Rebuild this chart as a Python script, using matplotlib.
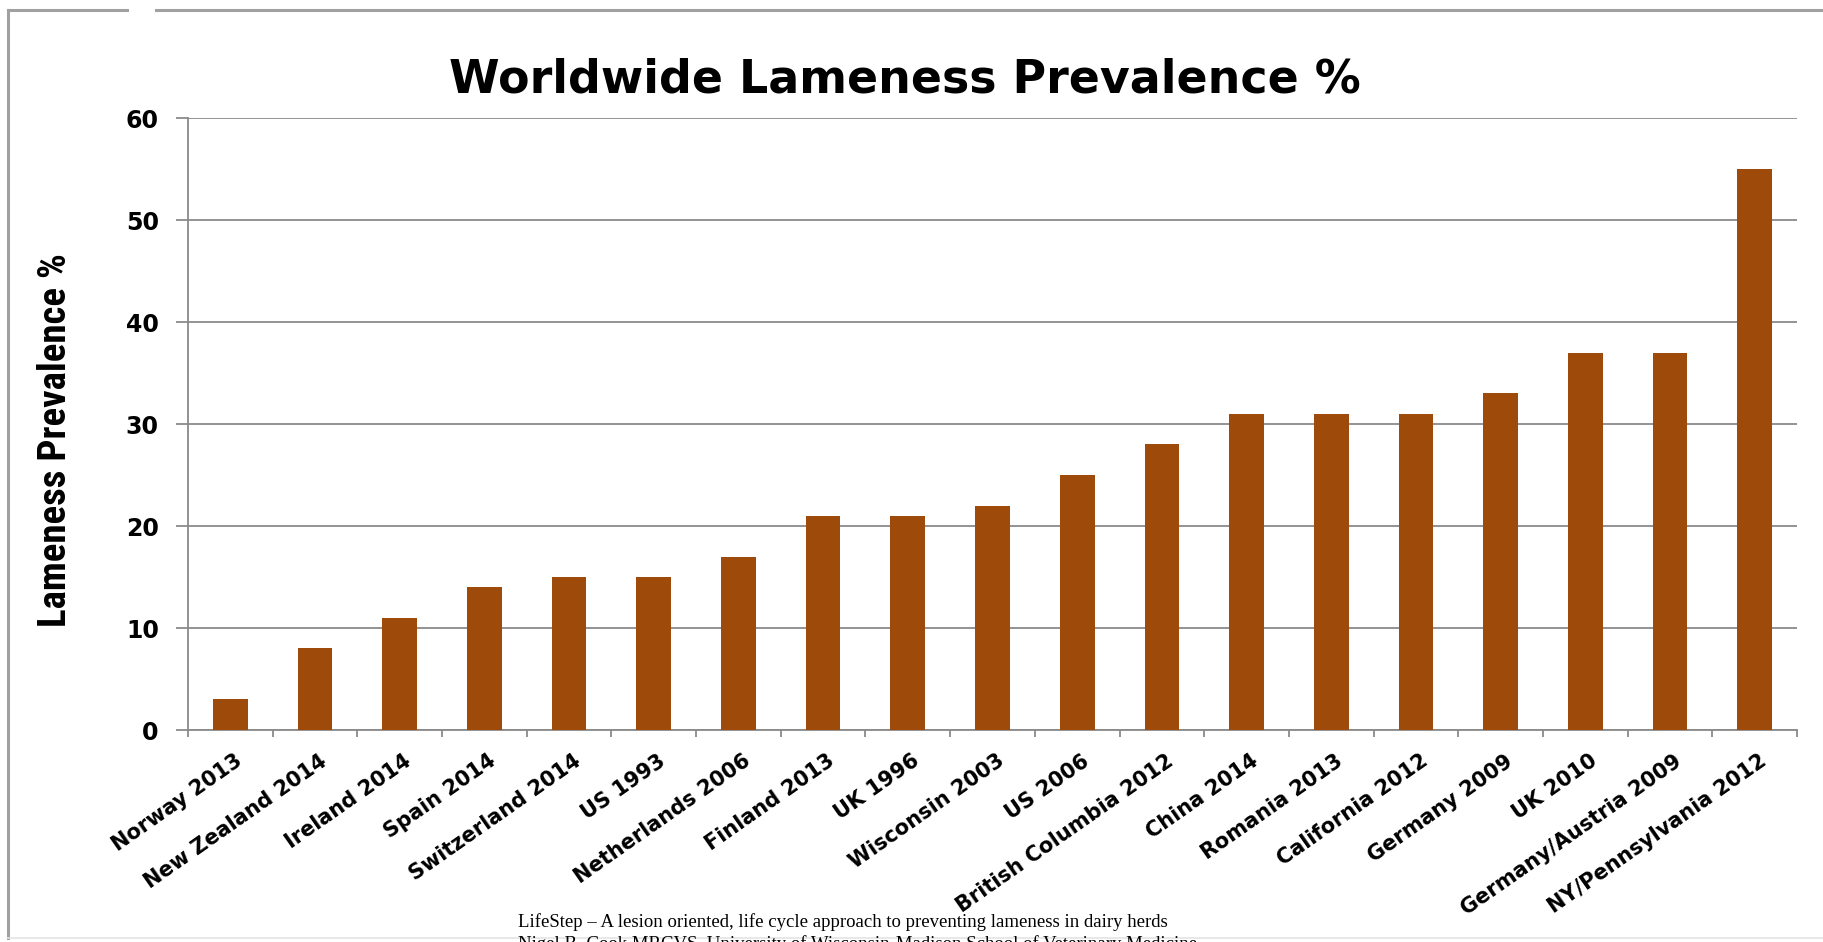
import numpy as np
import matplotlib
matplotlib.use("Agg")
import matplotlib.pyplot as plt
from matplotlib.lines import Line2D
import matplotlib.transforms as mtransforms
from matplotlib import font_manager

# ==========================================
# DATA
# ==========================================

studies = [
    "Norway 2013", "New Zealand 2014", "Ireland 2014", "Spain 2014",
    "Switzerland 2014", "US 1993", "Netherlands 2006", "Finland 2013",
    "UK 1996", "Wisconsin 2003", "US 2006", "British Columbia 2012",
    "China 2014", "Romania 2013", "California 2012", "Germany 2009",
    "UK 2010", "Germany/Austria 2009", "NY/Pennsylvania 2012",
]

prevalence = [3, 8, 11, 14, 15, 15, 17, 21, 21, 22, 25, 28,
              31, 31, 31, 33, 37, 37, 55]

y_ticks = [0, 10, 20, 30, 40, 50, 60]

title_text = "Worldwide Lameness Prevalence %"
ylabel_text = "Lameness Prevalence %"
footer_1 = "LifeStep \u2013 A lesion oriented, life cycle approach to preventing lameness in dairy herds"
footer_2 = "Nigel B. Cook MRCVS, University of Wisconsin-Madison School of Veterinary Medicine"

# pick a narrow bold face for the y label if one is around
names = {f.name for f in font_manager.fontManager.ttflist}
narrow = [n for n in ["Liberation Sans Narrow", "Roboto Condensed",
                      "Open Sans Condensed", "DejaVu Sans Condensed"] if n in names]
cond_stretch = [f for f in font_manager.fontManager.ttflist
                if f.name == "DejaVu Sans" and f.stretch == "condensed"]
if narrow:
    ylab_family = [narrow[0], "DejaVu Sans"]
    ylab_size = 28
    ylab_stretch = "normal"
elif cond_stretch:
    ylab_family = ["DejaVu Sans"]
    ylab_size = 24
    ylab_stretch = "condensed"
else:
    ylab_family = ["DejaVu Sans"]
    ylab_size = 20
    ylab_stretch = "normal"

# ==========================================
# FIGURE
# ==========================================

W, H = 1824, 942
fig = plt.figure(figsize=(W / 100, H / 100), dpi=100)
fig.patch.set_facecolor("white")

# axes box in pixels: left 188, right 1797, top 118, bottom 730
ax = fig.add_axes([188 / W, 1 - 730 / H, (1797 - 188) / W, (730 - 118) / H])

bar_color = "#9E4A0B"
grid_color = "#8A8A8A"

x = np.arange(len(studies))
ax.bar(x, prevalence, width=0.41, color=bar_color, zorder=3)

ax.set_xlim(-0.5, len(studies) - 0.5)
ax.set_ylim(0, 60)
ax.set_yticks(y_ticks)
ax.set_yticklabels([str(v) for v in y_ticks])

ax.yaxis.grid(True, color=grid_color, linewidth=1.3, zorder=0)
ax.set_axisbelow(True)

for side in ["top", "right"]:
    ax.spines[side].set_visible(False)
for side in ["left", "bottom"]:
    ax.spines[side].set_color(grid_color)
    ax.spines[side].set_linewidth(1.3)

# x ticks sit between categories
ax.set_xticks(np.arange(len(studies) + 1) - 0.5, minor=True)
ax.tick_params(axis="x", which="minor", length=5, width=1.3, color=grid_color)
ax.tick_params(axis="x", which="major", length=0, pad=15)
ax.set_xticks(x)
ax.set_xticklabels(studies, rotation=35, ha="right", va="top",
                   rotation_mode="anchor", fontsize=15, fontweight="bold",
                   family="DejaVu Sans")

ax.tick_params(axis="y", length=9, width=1.3, color=grid_color, pad=12,
               labelsize=17)
for lab in ax.get_yticklabels():
    lab.set_fontweight("bold")
    lab.set_family("DejaVu Sans")

# shift x tick labels a little to the right
offset = mtransforms.ScaledTranslation(4 / 100, 0, fig.dpi_scale_trans)
for lab in ax.get_xticklabels():
    lab.set_transform(lab.get_transform() + offset)

ax.set_ylabel(ylabel_text, fontsize=ylab_size, fontweight="bold",
              family=ylab_family, fontstretch=ylab_stretch)
ax.yaxis.set_label_coords((74 - 188) / (1797 - 188), (730 - 440) / (730 - 118))

fig.text(905 / W, 1 - 80 / H, title_text, ha="center", va="center",
         fontsize=33, fontweight="bold", family="DejaVu Sans")

# footer
fig.text(518 / W, 1 - 927 / H, footer_1, ha="left", va="baseline",
         fontsize=13.5, family="Liberation Serif")
fig.text(518 / W, 1 - 949 / H, footer_2, ha="left", va="baseline",
         fontsize=13.5, family="Liberation Serif")

# ==========================================
# OUTER FRAME
# ==========================================

frame_color = "#A0A0A0"
fx0, fy0, fy1 = 8 / W, 1 - 10 / H, 1 - 938 / H
fig.add_artist(Line2D([fx0, fx0], [fy0, fy1], color=frame_color, lw=2.2))
fig.add_artist(Line2D([fx0, 127 / W], [fy0, fy0], color=frame_color, lw=2.2))
fig.add_artist(Line2D([156 / W, 1.0], [fy0, fy0], color=frame_color, lw=2.2))
fig.add_artist(Line2D([fx0, 1.0], [fy1, fy1], color="#E4E4E4", lw=1.2))

fig.savefig("out.png", dpi=100)
